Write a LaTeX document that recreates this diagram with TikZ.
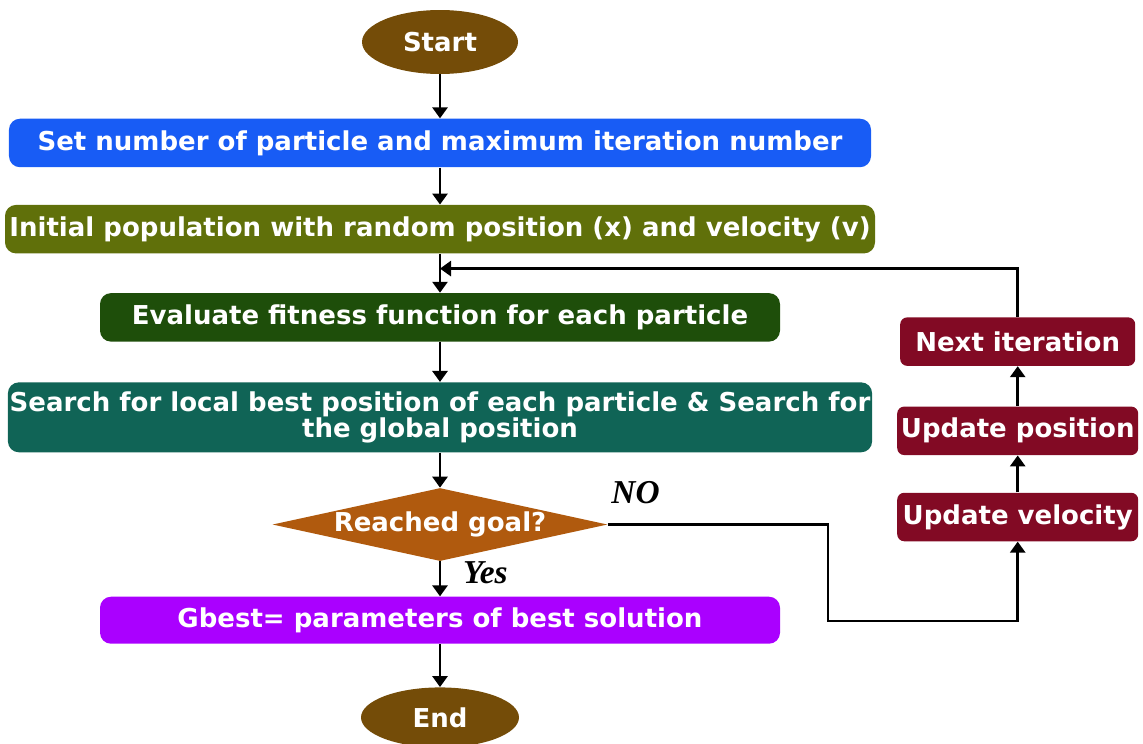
\documentclass[tikz,border=0pt]{standalone}
\usepackage{fontspec}
\usepackage{tikz}
\usetikzlibrary{shapes.geometric,arrows.meta,positioning,calc}
\newfontfamily\boxfont{DejaVu Sans}
\newfontfamily\lblfont{Liberation Serif}
\definecolor{ovalbraun}{RGB}{116,76,8}
\definecolor{setblau}{RGB}{24,92,245}
\definecolor{initoliv}{RGB}{96,112,10}
\definecolor{evalgruen}{RGB}{30,78,10}
\definecolor{suchteal}{RGB}{16,100,86}
\definecolor{zielorange}{RGB}{176,90,14}
\definecolor{bestlila}{RGB}{170,0,255}
\definecolor{iterrot}{RGB}{130,10,36}
\tikzset{
  startend/.style={ellipse, fill=ovalbraun, text=white, inner sep=0pt, minimum width=3.12cm, minimum height=1.28cm, font=\boxfont\bfseries\fontsize{14.8}{16}\selectfont},
  schritt/.style={rectangle, rounded corners=2.2mm, text=white, align=center, inner sep=1pt, minimum height=0.97cm, font=\boxfont\bfseries\fontsize{14.8}{15}\selectfont},
  entscheid/.style={diamond, aspect=1, fill=zielorange, inner sep=0pt, minimum width=6.7cm, minimum height=1.46cm},
  entscheidtext/.style={text=white, font=\boxfont\bfseries\fontsize{14.8}{16}\selectfont},
  iter/.style={schritt, fill=iterrot, rounded corners=1.4mm},
  pfeil/.style={-{Triangle[length=2.2mm,width=3mm]}, line width=1.6pt},
  kantenlabel/.style={font=\lblfont\bfseries\itshape\fontsize{19}{21}\selectfont, inner sep=1pt}
}

\begin{document}
\begin{tikzpicture}[node distance=0.8cm and 1.6cm]

\useasboundingbox (0,0) rectangle (22.86,-14.86);

\node[startend] (start) at (8.8,-0.84) {Start};

\node[schritt, fill=setblau, minimum width=17.24cm, below=0.88cm of start] (setup) {Set number of particle and maximum iteration number};

\node[schritt, fill=initoliv, minimum width=17.4cm, below=0.74cm of setup] (init) {Initial population with random position (x) and velocity (v)};

\node[schritt, fill=evalgruen, minimum width=13.6cm, below=0.78cm of init] (eval) {Evaluate fitness function for each particle};

\node[schritt, fill=suchteal, minimum width=16.86cm, minimum height=1.4cm, below=0.8cm of eval] (search) {Search for local best position of each particle \& Search for\\ the global position};

\node[entscheid, below=0.7cm of search, label={[entscheidtext]center:Reached goal?}] (goal) {};

\node[schritt, fill=bestlila, minimum width=13.6cm, minimum height=0.94cm, below=0.7cm of goal] (best) {Gbest= parameters of best solution};

\node[startend, minimum width=3.16cm, minimum height=1.2cm, below=0.86cm of best] (end) {End};

\node[iter, minimum width=4.82cm, right=5.78cm of goal, yshift=1.5mm] (vel) {Update velocity};
\node[iter, minimum width=4.82cm, above=0.74cm of vel] (pos) {Update position};
\node[iter, minimum width=4.7cm, above=0.8cm of pos] (next) {Next iteration};

\coordinate (merge) at ($(init.south)!0.38!(eval.north)$);
\coordinate (knick) at (16.56,-12.42);
\node[kantenlabel, above right=0.38cm and 0.03cm of goal.east] (nolbl) {NO};

\draw[pfeil] (start) -- (setup);
\draw[pfeil] (setup) -- (init);
\draw[pfeil] (init) -- (eval);
\draw[pfeil] (eval) -- (search);
\draw[pfeil] (search) -- (goal);
\draw[pfeil] (goal) -- node[kantenlabel, right=0.4cm, yshift=1.2mm] (yeslbl) {Yes} (best);
\draw[pfeil] (best) -- (end);
\draw[pfeil] (goal.east) -| (knick) -| (vel.south);
\draw[pfeil] (vel) -- (pos);
\draw[pfeil] (pos) -- (next);
\draw[pfeil] (next.north) |- (merge);

\end{tikzpicture}
\end{document}
